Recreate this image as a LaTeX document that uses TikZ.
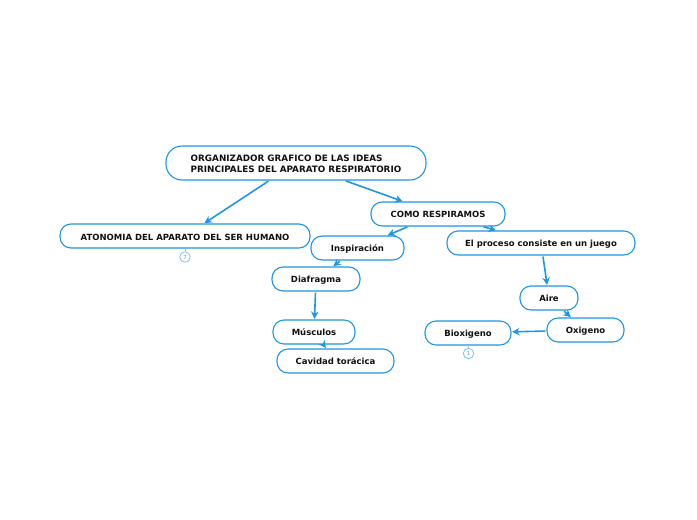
\documentclass[tikz,border=0pt]{standalone}
\usepackage{xcolor}
\usepackage{fontspec}
\setmainfont{DejaVu Sans}
\usetikzlibrary{arrows.meta}
\definecolor{accent}{HTML}{1E96E2}
\definecolor{ink}{HTML}{111111}
\definecolor{pale}{HTML}{7CC4F0}

\begin{document}
\begin{tikzpicture}[
      x=1pt, y=-1pt,
      box/.style={draw=accent, fill=white, rounded corners=11pt, line width=1.1pt, text=ink,
                  minimum height=24pt, inner sep=0pt, text height=6.8pt, text depth=0pt,
                  font=\fontsize{8.5}{11}\selectfont\bfseries},
      badge/.style={draw=pale, fill=white, circle, line width=.8pt, minimum size=10.5pt, inner sep=0pt,
                    text=pale!80!black, font=\fontsize{5.5}{6}\selectfont},
      arrow/.style={-{Stealth[length=7.5pt, width=7.5pt]}, accent, line width=1.6pt, shorten <=1pt, shorten >=.5pt},
      tick/.style={pale, line width=.8pt}]
    \useasboundingbox (0,0) rectangle (697,520);
    \node[box, minimum width=260pt, minimum height=34pt, rounded corners=16pt, align=left,
          text height=19pt, font=\fontsize{8.8}{11}\selectfont\bfseries] (root) at (296,163)
      {ORGANIZADOR GRAFICO DE LAS IDEAS\\PRINCIPALES DEL APARATO RESPIRATORIO};
    \node[box, minimum width=250pt, text height=8pt] (atonomia) at (185,236) {ATONOMIA DEL APARATO DEL SER HUMANO};
    \node[box, minimum width=134pt]   (como)      at (438,214)   {COMO RESPIRAMOS};
    \node[box, minimum width=93pt]    (insp)      at (357.5,248) {Inspiración};
    \node[box, minimum width=188pt]   (proceso)   at (541,243)   {El proceso consiste en un juego};
    \node[box, minimum width=88pt]    (diafragma) at (316,279)   {Diafragma};
    \node[box, minimum width=82pt]    (musculos)  at (314,332)   {Músculos};
    \node[box, minimum width=117pt]   (cavidad)   at (335.5,361) {Cavidad torácica};
    \node[box, minimum width=58pt]    (aire)      at (549,298)   {Aire};
    \node[box, minimum width=77pt]    (oxigeno)   at (585.5,330) {Oxigeno};
    \node[box, minimum width=86pt]    (bioxigeno) at (468,333)   {Bioxigeno};
    \node[badge] (notaA) at (185,257) {7};
    \node[badge] (notaB) at (468.5,353.5) {1};
    \draw[arrow] (root)      -- (atonomia);
    \draw[arrow] (root)      -- (como);
    \draw[arrow] (como)      -- (insp);
    \draw[arrow] (como)      -- (proceso);
    \draw[arrow] (insp)      -- (diafragma);
    \draw[arrow] (diafragma) -- (musculos);
    \draw[arrow] (musculos)  -- (cavidad);
    \draw[arrow] (proceso)   -- (aire);
    \draw[arrow] (aire)      -- (oxigeno);
    \draw[arrow] (oxigeno)   -- (bioxigeno);
    \draw[tick]  (atonomia)  -- (notaA);
    \draw[tick]  (bioxigeno) -- (notaB);
  \end{tikzpicture}
\end{document}
